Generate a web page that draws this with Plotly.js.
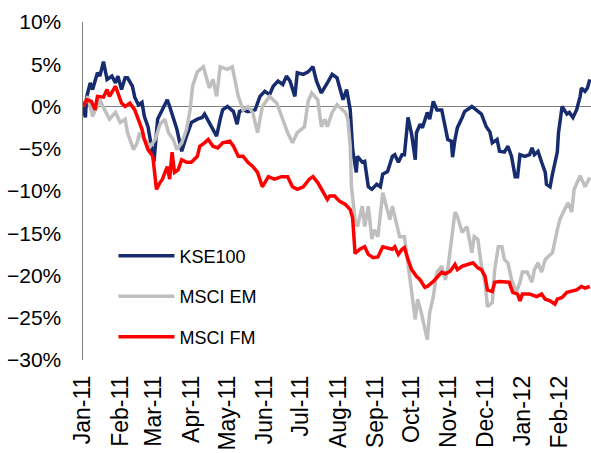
<!DOCTYPE html>
<html>
<head>
<meta charset="utf-8">
<script src="https://cdn.plot.ly/plotly-3.0.1.min.js"></script>
<style>
  html, body { margin: 0; padding: 0; background: #fff; }
  #chart { width: 591px; height: 453px; }
</style>
</head>
<body>
<div id="chart"></div>
<script>
// Cumulative returns since the start of 2011 (%)
const kseDates = [
  '2011-01-01','2011-01-03','2011-01-04','2011-01-07','2011-01-09','2011-01-13','2011-01-15','2011-01-18',
  '2011-01-21','2011-01-25','2011-01-28','2011-01-30','2011-02-02','2011-02-05','2011-02-07','2011-02-11',
  '2011-02-13','2011-02-16','2011-02-19','2011-02-21','2011-02-24','2011-02-27','2011-03-01','2011-03-04',
  '2011-03-08','2011-03-10','2011-03-12','2011-03-14','2011-03-17','2011-03-20','2011-03-23','2011-03-24',
  '2011-03-28','2011-04-01','2011-04-06','2011-04-10','2011-04-12','2011-04-18','2011-04-22','2011-04-25',
  '2011-04-27','2011-05-01','2011-05-06','2011-05-09','2011-05-11','2011-05-14','2011-05-18','2011-05-24',
  '2011-05-28','2011-06-01','2011-06-05','2011-06-08','2011-06-12','2011-06-16','2011-06-19','2011-06-22',
  '2011-06-26','2011-06-28','2011-07-03','2011-07-07','2011-07-11','2011-07-14','2011-07-18','2011-07-23',
  '2011-07-27','2011-07-31','2011-08-02','2011-08-05','2011-08-08','2011-08-11','2011-08-13','2011-08-16',
  '2011-08-17','2011-08-21','2011-08-23','2011-08-26','2011-08-29','2011-09-02','2011-09-05','2011-09-07',
  '2011-09-11','2011-09-15','2011-09-17','2011-09-20','2011-09-23','2011-09-25','2011-09-28','2011-10-01',
  '2011-10-04','2011-10-05','2011-10-08','2011-10-10','2011-10-14','2011-10-16','2011-10-19','2011-10-22',
  '2011-10-26','2011-10-29','2011-10-31','2011-11-03','2011-11-04','2011-11-06','2011-11-08','2011-11-12',
  '2011-11-14','2011-11-20','2011-11-24','2011-11-28','2011-12-02','2011-12-05','2011-12-07','2011-12-11',
  '2011-12-13','2011-12-17','2011-12-20','2011-12-23','2011-12-26','2011-12-28','2011-12-30','2012-01-03',
  '2012-01-07','2012-01-09','2012-01-11','2012-01-14','2012-01-17','2012-01-20','2012-01-21','2012-01-24',
  '2012-01-26','2012-01-30','2012-01-31','2012-02-01','2012-02-03','2012-02-07','2012-02-09','2012-02-12',
  '2012-02-15','2012-02-18','2012-02-19','2012-02-22','2012-02-24','2012-02-26'
];
const kseValues = [
  0, -1.3, 1.1, 2.8, 2.0, 4.0, 3.6, 5.3,
  3.2, 3.6, 2.8, 3.6, 2.0, 3.4, 3.4, 2.4,
  1.1, 0.2, 0.5, -1.2, -2.4, -5.1, -6.5, -1.5,
  -0.4, 0.2, 0.8, 0, -1.5, -2.7, -4.7, -5.3,
  -3.5, -1.9, -1.5, -1.3, -0.9, -2.4, -3.5, -1.5,
  -0.4, 0, -0.6, -2.1, -0.6, -0.4, -0.6, -0.4,
  1.2, 1.8, 1.4, 2.4, 3.0, 2.6, 3.6, 3.0,
  1.2, 4.0, 3.8, 4.1, 4.7, 3.0, 1.6, 2.8,
  3.8, 3.4, 2.2, 0.8, 2.0, -0.4, -5.1, -7.8,
  -5.9, -6.6, -6.5, -9.5, -9.8, -9.2, -9.5, -8.0,
  -7.7, -5.9, -5.7, -6.6, -5.7, -5.7, -1.3, -3.3,
  -6.3, -3.1, -2.1, -2.5, -0.7, -1.5, 0.6, -0.4,
  -0.4, -2.7, -3.9, -4.1, -6.0, -3.9, -2.5, -1.3,
  -0.6, 0, -0.4, -0.9, -2.4, -3.0, -4.3, -3.9,
  -5.3, -5.4, -4.7, -5.9, -8.3, -8.3, -5.7, -5.9,
  -5.7, -4.9, -5.7, -5.3, -6.6, -7.8, -9.2, -9.5,
  -8.0, -5.4, -3.1, -1.9, 0, -0.9, -0.7, -1.3,
  -0.4, 1.2, 2.2, 1.8, 2.2, 3.2
];

const emDates = [
  '2011-01-01','2011-01-05','2011-01-09','2011-01-13','2011-01-15','2011-01-19','2011-01-23','2011-01-28',
  '2011-02-01','2011-02-05','2011-02-07','2011-02-12','2011-02-15','2011-02-17','2011-02-21','2011-02-26',
  '2011-03-02','2011-03-06','2011-03-10','2011-03-13','2011-03-17','2011-03-20','2011-03-24','2011-03-28',
  '2011-03-31','2011-04-02','2011-04-06','2011-04-11','2011-04-14','2011-04-16','2011-04-19','2011-04-22',
  '2011-04-25','2011-05-01','2011-05-05','2011-05-07','2011-05-10','2011-05-14','2011-05-18','2011-05-22',
  '2011-05-26','2011-05-30','2011-06-05','2011-06-11','2011-06-16','2011-06-20','2011-06-24','2011-06-28',
  '2011-07-04','2011-07-07','2011-07-10','2011-07-13','2011-07-15','2011-07-18','2011-07-21','2011-07-23',
  '2011-07-27','2011-07-31','2011-08-04','2011-08-07','2011-08-09','2011-08-11','2011-08-12','2011-08-15',
  '2011-08-17','2011-08-21','2011-08-23','2011-08-26','2011-08-29','2011-08-31','2011-09-03','2011-09-07',
  '2011-09-10','2011-09-13','2011-09-15','2011-09-19','2011-09-21','2011-09-25','2011-09-28','2011-10-01',
  '2011-10-04','2011-10-06','2011-10-09','2011-10-14','2011-10-16','2011-10-19','2011-10-22','2011-10-26',
  '2011-10-29','2011-10-31','2011-11-03','2011-11-06','2011-11-08','2011-11-12','2011-11-16','2011-11-20',
  '2011-11-22','2011-11-25','2011-11-28','2011-12-01','2011-12-03','2011-12-07','2011-12-09','2011-12-12',
  '2011-12-15','2011-12-17','2011-12-20','2011-12-23','2011-12-27','2011-12-30','2012-01-01','2012-01-05',
  '2012-01-09','2012-01-11','2012-01-14','2012-01-17','2012-01-20','2012-01-24','2012-01-26','2012-01-30',
  '2012-02-01','2012-02-05','2012-02-08','2012-02-11','2012-02-13','2012-02-18','2012-02-22','2012-02-26'
];
const emValues = [
  0, 1.2, -1.2, 0, 0.8, -0.4, -1.5, -0.7,
  -1.9, -1.5, -3.1, -5.1, -4.3, -3.1, -3.9, -4.7,
  -3.9, -2.1, -1.5, -3.1, -3.9, -5.1, -4.3, -2.7,
  -0.4, 2.4, 4.1, 4.7, 3.2, 2.2, 3.2, 1.2,
  4.7, 4.4, 4.7, 3.2, 1.2, -0.4, 0, -0.7,
  -3.1, 0, 1.2, 0.4, -1.5, -3.1, -4.3, -3.1,
  -2.4, 0.6, 1.6, 1.2, 0.8, -2.4, -1.5, -2.4,
  -0.7, 0.2, -0.4, -0.7, -1.5, -4.7, -9.5, -13.4,
  -14.2, -11.8, -14.2, -11.8, -15.7, -14.6, -15.4, -10.2,
  -11.8, -13.4, -11.8, -14.2, -15.4, -15.4, -18.9, -22.5,
  -25.2, -22.8, -24.4, -27.6, -24.4, -22.5, -19.6, -18.9,
  -20.5, -19.3, -15.7, -12.5, -13.0, -14.9, -14.2, -17.3,
  -15.4, -15.7, -18.9, -20.8, -23.7, -23.2, -19.3, -16.6,
  -16.6, -18.1, -18.5, -20.5, -22.0, -20.8, -19.6, -19.6,
  -20.8, -19.3, -18.5, -19.6, -18.1, -17.5, -17.3, -14.6,
  -13.4, -12.2, -11.4, -12.5, -9.8, -8.2, -9.5, -8.4
];

const fmDates = [
  '2011-01-01','2011-01-04','2011-01-08','2011-01-11','2011-01-13','2011-01-18','2011-01-21','2011-01-23',
  '2011-01-28','2011-01-30','2011-02-02','2011-02-05','2011-02-09','2011-02-13','2011-02-16','2011-02-19',
  '2011-02-21','2011-02-24','2011-02-28','2011-03-03','2011-03-06','2011-03-08','2011-03-12','2011-03-14',
  '2011-03-16','2011-03-18','2011-03-21','2011-03-24','2011-03-28','2011-04-01','2011-04-06','2011-04-08',
  '2011-04-12','2011-04-15','2011-04-19','2011-04-23','2011-04-27','2011-05-03','2011-05-06','2011-05-10',
  '2011-05-14','2011-05-18','2011-05-22','2011-05-26','2011-05-30','2011-06-04','2011-06-09','2011-06-15',
  '2011-06-20','2011-06-24','2011-06-28','2011-07-03','2011-07-08','2011-07-11','2011-07-15','2011-07-18',
  '2011-07-23','2011-07-25','2011-07-29','2011-08-02','2011-08-07','2011-08-11','2011-08-13','2011-08-15',
  '2011-08-19','2011-08-23','2011-08-26','2011-08-30','2011-09-03','2011-09-07','2011-09-11','2011-09-15',
  '2011-09-17','2011-09-20','2011-09-23','2011-09-25','2011-09-28','2011-10-01','2011-10-05','2011-10-08',
  '2011-10-12','2011-10-14','2011-10-19','2011-10-23','2011-10-26','2011-10-29','2011-11-02','2011-11-06',
  '2011-11-08','2011-11-12','2011-11-17','2011-11-21','2011-11-25','2011-11-28','2011-12-01','2011-12-03',
  '2011-12-07','2011-12-09','2011-12-13','2011-12-17','2011-12-21','2011-12-24','2011-12-28','2011-12-30',
  '2012-01-01','2012-01-07','2012-01-13','2012-01-17','2012-01-20','2012-01-24','2012-01-28','2012-01-30',
  '2012-02-03','2012-02-07','2012-02-11','2012-02-15','2012-02-19','2012-02-22','2012-02-26'
];
const fmValues = [
  0, 0.8, 0.6, -0.4, 1.2, 1.1, 2.0, 1.2,
  2.4, 1.6, 0.4, 0, 0.4, -0.4, -1.5, -2.7,
  -3.9, -5.1, -5.9, -9.8, -9.0, -8.6, -7.1, -8.6,
  -5.4, -7.8, -7.5, -6.3, -6.6, -6.6, -5.9, -4.7,
  -4.3, -3.9, -4.7, -4.9, -4.3, -4.1, -4.7, -5.9,
  -5.9, -6.6, -7.1, -7.8, -9.5, -8.3, -8.6, -8.3,
  -8.3, -9.5, -9.8, -9.5, -8.6, -8.3, -9.0, -9.8,
  -11.0, -10.6, -10.6, -11.2, -11.6, -12.2, -13.2, -17.4,
  -16.9, -16.6, -17.5, -17.9, -17.8, -16.6, -16.7, -16.9,
  -16.6, -17.5, -16.9, -16.7, -18.1, -19.3, -20.1, -20.5,
  -21.4, -21.3, -20.7, -20.1, -19.6, -19.8, -19.5, -18.7,
  -19.3, -18.9, -18.7, -18.5, -19.1, -19.3, -20.1, -21.7,
  -21.9, -20.8, -20.7, -20.7, -20.8, -22.0, -22.2, -23.0,
  -22.2, -22.2, -22.5, -22.2, -22.8, -23.0, -23.4, -22.8,
  -22.6, -22.0, -21.9, -21.7, -21.3, -21.5, -21.3
];

const seriesNames = ['KSE100', 'MSCI EM', 'MSCI FM'];
const seriesColors = ['#172C6E', '#BFBFBF', '#FF0000'];

const FONT = 'Liberation Sans, Arial, sans-serif';

const traces = [
  [kseDates, kseValues],
  [emDates, emValues],
  [fmDates, fmValues]
].map(([x, y], i) => ({
  type: 'scatter',
  mode: 'lines',
  name: seriesNames[i],
  legendgroup: 'g' + i,
  x: x,
  y: y,
  line: { color: seriesColors[i], width: 3.5 },
  hoverinfo: 'skip'
}));

const layout = {
  width: 591,
  height: 453,
  margin: { l: 83, r: 0, t: 22, b: 93, pad: 0 },
  paper_bgcolor: '#fff',
  plot_bgcolor: '#fff',
  font: { family: FONT, size: 20, color: '#000' },
  showlegend: true,
  legend: {
    x: 0.06, y: 0.362, xanchor: 'left', yanchor: 'top',
    bgcolor: 'rgba(0,0,0,0)',
    font: { family: FONT, size: 18, color: '#000' },
    itemwidth: 56,
    tracegroupgap: 14,
    traceorder: 'grouped'
  },
  xaxis: {
    type: 'date',
    range: ['2011-01-01', '2012-02-27'],
    tick0: '2011-01-01',
    dtick: 'M1',
    tickformat: '%b-%y',
    tickangle: -90,
    ticks: '',
    ticklabelstandoff: 10,
    showgrid: false,
    zeroline: false,
    showline: false,
    tickfont: { family: FONT, size: 23, color: '#000' },
    fixedrange: true
  },
  yaxis: {
    range: [-30, 10],
    dtick: 5,
    ticksuffix: '%',
    ticks: '',
    ticklabelstandoff: 16,
    showgrid: false,
    zeroline: true,
    zerolinecolor: '#7F7F7F',
    zerolinewidth: 1.5,
    showline: true,
    linecolor: '#7F7F7F',
    linewidth: 1.5,
    tickfont: { family: FONT, size: 21, color: '#000' },
    fixedrange: true
  }
};

Plotly.newPlot('chart', traces, layout, { displayModeBar: false, staticPlot: true });
</script>
</body>
</html>
